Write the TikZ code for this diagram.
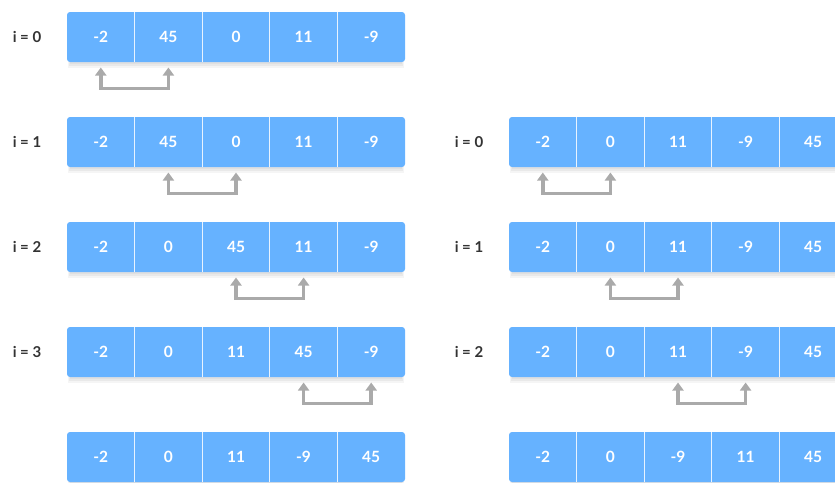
\documentclass[tikz,border=0pt]{standalone}
\usepackage{fontspec}
\setmainfont{Lato}
\usetikzlibrary{arrows.meta}
\definecolor{cellblue}{RGB}{102,178,255}
\definecolor{arrgray}{RGB}{170,170,170}
\definecolor{labc}{RGB}{51,51,51}
\tikzset{
  arrbox/.style={fill=cellblue, rounded corners=3pt, minimum width=338pt, minimum height=50pt, inner sep=0pt, outer sep=0pt},
  cellnode/.style={minimum width=67.6pt, minimum height=50pt, inner sep=0pt, outer sep=0pt, text=white, font=\fontsize{15.5}{18}\selectfont\bfseries},
  sepline/.style={draw=white!85!cellblue, line width=0.9pt},
  lab/.style={text=labc, font=\fontsize{15}{18}\selectfont\bfseries},
  swp/.style={{Triangle[width=11pt,length=8pt]}-{Triangle[width=11pt,length=8pt]}, line width=3.6pt, draw=arrgray},
}
\newcommand\myrow[4]{%
  \fill[black, opacity=0.04] (#2+1,-#3-44) rectangle (#2+337,-#3-56);
  \fill[black, opacity=0.05] (#2+2,-#3-46) rectangle (#2+336,-#3-54);
  \fill[black, opacity=0.04] (#2+3,-#3-48) rectangle (#2+335,-#3-52);
  \node[arrbox, anchor=north west] (#1) at (#2,-#3) {};
  \foreach \v [count=\i] in {#4} {
    \node[cellnode, anchor=north west] (#1c\i) at ({#2+(\i-1)*67.6},-#3) {\v};
  }
  \foreach \j in {1,...,4} {
    \draw[sepline] ({#2+\j*67.6},-#3) -- ({#2+\j*67.6},-#3-50);
  }
}
\begin{document}
\begin{tikzpicture}[x=1pt,y=1pt]
\useasboundingbox (0,0) rectangle (835,-482);
\clip (0,0) rectangle (835,-482);
% left column
\myrow{La}{67}{12}{-2,45,0,11,-9}
\myrow{Lb}{67}{117}{-2,45,0,11,-9}
\myrow{Lc}{67}{222}{-2,0,45,11,-9}
\myrow{Ld}{67}{327}{-2,0,11,45,-9}
\myrow{Le}{67}{432}{-2,0,11,-9,45}
% right column
\myrow{Rb}{509}{117}{-2,0,11,-9,45}
\myrow{Rc}{509}{222}{-2,0,11,-9,45}
\myrow{Rd}{509}{327}{-2,0,11,-9,45}
\myrow{Re}{509}{432}{-2,0,-9,11,45}
% labels
\node[lab] (la) at (27,-37) {i = 0};
\node[lab] (lb) at (27,-142) {i = 1};
\node[lab] (lc) at (27,-247) {i = 2};
\node[lab] (ld) at (27,-352) {i = 3};
\node[lab] (rb) at (469,-142) {i = 0};
\node[lab] (rc) at (469,-247) {i = 1};
\node[lab] (rd) at (469,-352) {i = 2};
% swap arrows
\draw[swp] ([yshift=-5.5pt]Lac2.south) -- ++(0,-21) -| ([yshift=-5.5pt]Lac1.south);
\draw[swp] ([yshift=-5.5pt]Lbc3.south) -- ++(0,-21) -| ([yshift=-5.5pt]Lbc2.south);
\draw[swp] ([yshift=-5.5pt]Lcc4.south) -- ++(0,-21) -| ([yshift=-5.5pt]Lcc3.south);
\draw[swp] ([yshift=-5.5pt]Ldc5.south) -- ++(0,-21) -| ([yshift=-5.5pt]Ldc4.south);
\draw[swp] ([yshift=-5.5pt]Rbc2.south) -- ++(0,-21) -| ([yshift=-5.5pt]Rbc1.south);
\draw[swp] ([yshift=-5.5pt]Rcc3.south) -- ++(0,-21) -| ([yshift=-5.5pt]Rcc2.south);
\draw[swp] ([yshift=-5.5pt]Rdc4.south) -- ++(0,-21) -| ([yshift=-5.5pt]Rdc3.south);
\end{tikzpicture}
\end{document}
